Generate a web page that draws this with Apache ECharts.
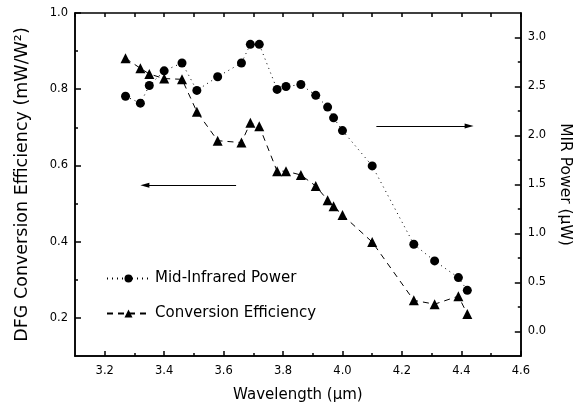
<!DOCTYPE html>
<html>
<head>
<meta charset="utf-8">
<script src="https://cdn.jsdelivr.net/npm/echarts@6/dist/echarts.min.js"></script>
<style>html,body{margin:0;padding:0;background:#fff;}#chart{width:581px;height:409px;}</style>
</head>
<body>
<div id="chart"></div>
<script>
// ---- data ----
const wavelengths = [3.27, 3.32, 3.35, 3.40, 3.46, 3.51, 3.58, 3.66, 3.69, 3.72, 3.78, 3.81, 3.86, 3.91, 3.95, 3.97, 4.00, 4.10, 4.24, 4.31, 4.39, 4.42];
const midIrPower = [2.40, 2.33, 2.51, 2.66, 2.74, 2.46, 2.60, 2.74, 2.93, 2.93, 2.47, 2.50, 2.52, 2.41, 2.29, 2.18, 2.05, 1.69, 0.89, 0.72, 0.55, 0.42];
const convEfficiency = [0.881, 0.855, 0.840, 0.828, 0.826, 0.741, 0.665, 0.660, 0.712, 0.703, 0.585, 0.585, 0.575, 0.546, 0.509, 0.493, 0.470, 0.399, 0.246, 0.236, 0.257, 0.210];
const xMajorTicks = [3.2, 3.4, 3.6, 3.8, 4.0, 4.2, 4.4, 4.6];
const xMinorTicks = [3.3, 3.5, 3.7, 3.9, 4.1, 4.3, 4.5];
const leftMajorTicks = [0.2, 0.4, 0.6, 0.8, 1.0];
const leftMinorTicks = [0.3, 0.5, 0.7, 0.9];
const rightMajorTicks = [0.0, 0.5, 1.0, 1.5, 2.0, 2.5, 3.0];
const rightMinorTicks = [0.25, 0.75, 1.25, 1.75, 2.25, 2.75];
// annotation arrows (data units): [xStart, xEnd, y]
const leftArrow = [3.642, 3.335, 0.548];
const rightArrow = [4.114, 4.426, 2.098];

const FONT = 'DejaVu Sans';
const black = '#000';
const X_MIN = 3.1, X_MAX = 4.6, L_MIN = 0.1, L_MAX = 1.0, R_MIN = -0.25, R_MAX = 3.25;

function tick(len, vals) {
  const t = { show: true, inside: true, length: len, lineStyle: { color: black, width: 1.5 } };
  if (vals) t.customValues = vals;
  return t;
}
function axis(extra) {
  return Object.assign({
    type: 'value',
    axisLine: { show: true, onZero: false, lineStyle: { color: black, width: 1.5 } },
    splitLine: { show: false },
    axisLabel: { show: false }
  }, extra);
}

const chart = echarts.init(document.getElementById('chart'));
chart.setOption({
  animation: false,
  backgroundColor: '#fff',
  grid: { left: 75, right: 58, top: 13, bottom: 53 },
  legend: {
    orient: 'vertical',
    left: 101,
    top: 266,
    itemWidth: 43,
    itemHeight: 10,
    itemGap: 20,
    textStyle: { fontFamily: FONT, fontSize: 15, color: black },
    data: ['Mid-Infrared Power', 'Conversion Efficiency']
  },
  xAxis: [
    axis({
      min: X_MIN, max: X_MAX, position: 'bottom',
      name: 'Wavelength (\u03bcm)', nameLocation: 'middle', nameGap: 32,
      nameTextStyle: { fontFamily: FONT, fontSize: 15, color: black },
      axisTick: tick(5, xMajorTicks),
      axisLabel: { show: true, margin: 9, customValues: xMajorTicks, fontFamily: FONT, fontSize: 11.5, color: black, formatter: v => v.toFixed(1) }
    }),
    axis({
      min: X_MIN, max: X_MAX, position: 'bottom',
      axisTick: tick(3, xMinorTicks),
      axisLabel: { show: false, customValues: xMinorTicks }
    }),
    axis({
      min: X_MIN, max: X_MAX, interval: 0.1, position: 'top',
      axisTick: tick(4)
    })
  ],
  yAxis: [
    axis({
      min: L_MIN, max: L_MAX, position: 'left',
      name: 'DFG Conversion Efficiency (mW/W\u00b2)', nameLocation: 'middle', nameGap: 44, nameRotate: 90,
      nameTextStyle: { fontFamily: FONT, fontSize: 17.5, color: black },
      axisTick: tick(6, leftMajorTicks),
      axisLabel: { show: true, margin: 7, customValues: leftMajorTicks, fontFamily: FONT, fontSize: 11.5, color: black, formatter: v => v.toFixed(1) }
    }),
    axis({
      min: L_MIN, max: L_MAX, position: 'left',
      axisTick: tick(3, leftMinorTicks),
      axisLabel: { show: false, customValues: leftMinorTicks }
    }),
    axis({
      min: R_MIN, max: R_MAX, position: 'right',
      name: 'MIR Power (\u03bcW)', nameLocation: 'middle', nameGap: 36, nameRotate: -90,
      nameTextStyle: { fontFamily: FONT, fontSize: 15.5, color: black },
      axisTick: tick(6, rightMajorTicks),
      axisLabel: { show: true, margin: 7, customValues: rightMajorTicks, fontFamily: FONT, fontSize: 11.5, color: black, formatter: v => v.toFixed(1) }
    }),
    axis({
      min: R_MIN, max: R_MAX, position: 'right',
      axisTick: tick(3, rightMinorTicks),
      axisLabel: { show: false, customValues: rightMinorTicks }
    })
  ],
  series: [
    {
      name: 'Mid-Infrared Power',
      type: 'line',
      xAxisIndex: 0, yAxisIndex: 2,
      data: wavelengths.map((w, i) => [w, midIrPower[i]]),
      symbol: 'circle', symbolSize: 9,
      itemStyle: { color: black },
      lineStyle: { color: black, width: 1, type: [1, 4] },
      markLine: {
        silent: true, symbol: ['none', 'triangle'], symbolSize: [5, 9],
        label: { show: false },
        lineStyle: { color: black, width: 1, type: 'solid' },
        data: [[{ coord: [rightArrow[0], rightArrow[2]] }, { coord: [rightArrow[1], rightArrow[2]] }]]
      }
    },
    {
      name: 'Conversion Efficiency',
      type: 'line',
      xAxisIndex: 0, yAxisIndex: 0,
      data: wavelengths.map((w, i) => [w, convEfficiency[i]]),
      symbol: 'triangle', symbolSize: 10,
      itemStyle: { color: black },
      lineStyle: { color: black, width: 1, type: [6, 5] },
      markLine: {
        silent: true, symbol: ['none', 'triangle'], symbolSize: [5, 9],
        label: { show: false },
        lineStyle: { color: black, width: 1, type: 'solid' },
        data: [[{ coord: [leftArrow[0], leftArrow[2]] }, { coord: [leftArrow[1], leftArrow[2]] }]]
      }
    }
  ]
});
</script>
</body>
</html>
